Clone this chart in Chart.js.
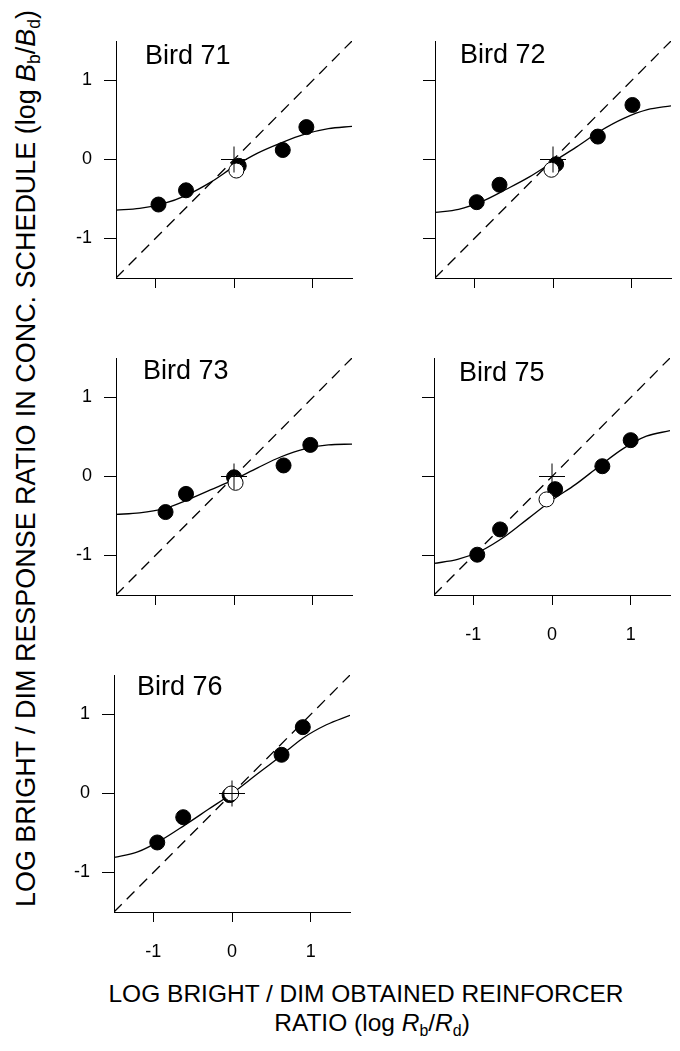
<!DOCTYPE html>
<html>
<head>
<meta charset="utf-8">
<script src="https://cdn.jsdelivr.net/npm/chart.js@4.4.1/dist/chart.umd.min.js"></script>
<style>
  html,body{margin:0;padding:0;background:#fff;}
  body{width:680px;height:1051px;position:relative;overflow:hidden;font-family:"Liberation Sans",Arial,sans-serif;color:#000;}
  .panel{position:absolute;}
  .ytitle{position:absolute;left:27px;top:458px;white-space:nowrap;font-size:27px;line-height:27px;}
  .xline{position:absolute;white-space:nowrap;font-size:24.5px;line-height:30px;transform:translateX(-50%);}
  sub{font-size:0.65em;vertical-align:-0.3em;line-height:0;}
</style>
</head>
<body>
<div class="ytitle" id="ytitle">LOG BRIGHT / DIM RESPONSE RATIO IN CONC. SCHEDULE (log <i>B</i><sub>b</sub>/<i>B</i><sub>d</sub>)</div>
<div class="xline" style="left:366px;top:979px;">LOG BRIGHT / DIM OBTAINED REINFORCER</div>
<div class="xline" style="left:372px;top:1008px;">RATIO (log <i>R</i><sub>b</sub>/<i>R</i><sub>d</sub>)</div>
<script>
// ---- data ----
const birdNames = ['Bird 71', 'Bird 72', 'Bird 73', 'Bird 75', 'Bird 76'];
const tickValues = [-1, 0, 1];
const tickLabels = ['-1', '0', '1'];
const axisMin = -1.5, axisMax = 1.5;
const diagX = [-1.5, 1.5];
const diagY = [-1.5, 1.5];
const crossX = [0];
const crossY = [0];
const curveX = [-1.5, -1.2, -0.9, -0.6, -0.3, 0, 0.3, 0.6, 0.9, 1.2, 1.5];

const b71FilledX = [-0.96, -0.61, 0.06, 0.62, 0.92];
const b71FilledY = [-0.57, -0.39, -0.08, 0.12, 0.41];
const b71OpenX = [0.03];
const b71OpenY = [-0.14];
const b71Curve = [-0.64, -0.62, -0.56, -0.45, -0.29, -0.09, 0.08, 0.21, 0.32, 0.39, 0.42];

const b72FilledX = [-0.97, -0.68, 0.04, 0.57, 1.01];
const b72FilledY = [-0.54, -0.32, -0.06, 0.29, 0.69];
const b72OpenX = [-0.02];
const b72OpenY = [-0.13];
const b72Curve = [-0.67, -0.63, -0.53, -0.38, -0.22, -0.03, 0.16, 0.36, 0.52, 0.63, 0.68];

const b73FilledX = [-0.87, -0.61, 0.0, 0.63, 0.97];
const b73FilledY = [-0.45, -0.22, -0.01, 0.14, 0.40];
const b73OpenX = [0.02];
const b73OpenY = [-0.08];
const b73Curve = [-0.48, -0.46, -0.41, -0.30, -0.17, -0.04, 0.11, 0.25, 0.35, 0.40, 0.41];

const b75FilledX = [-0.95, -0.66, 0.04, 0.64, 1.0];
const b75FilledY = [-0.99, -0.67, -0.16, 0.13, 0.46];
const b75OpenX = [-0.07];
const b75OpenY = [-0.29];
const b75Curve = [-1.10, -1.05, -0.94, -0.76, -0.53, -0.30, -0.10, 0.13, 0.35, 0.51, 0.58];

const b76FilledX = [-0.95, -0.62, -0.03, 0.63, 0.90];
const b76FilledY = [-0.62, -0.30, -0.02, 0.49, 0.84];
const b76OpenX = [-0.01];
const b76OpenY = [0.0];
const b76Curve = [-0.81, -0.74, -0.59, -0.40, -0.20, 0.0, 0.23, 0.46, 0.70, 0.87, 0.99];

const birdData = [
  {fx: b71FilledX, fy: b71FilledY, ox: b71OpenX, oy: b71OpenY, cy: b71Curve},
  {fx: b72FilledX, fy: b72FilledY, ox: b72OpenX, oy: b72OpenY, cy: b72Curve},
  {fx: b73FilledX, fy: b73FilledY, ox: b73OpenX, oy: b73OpenY, cy: b73Curve},
  {fx: b75FilledX, fy: b75FilledY, ox: b75OpenX, oy: b75OpenY, cy: b75Curve},
  {fx: b76FilledX, fy: b76FilledY, ox: b76OpenX, oy: b76OpenY, cy: b76Curve}
];

// ---- y title: rotate and fit to its span in the reference (y 10..907) ----
(function () {
  const el = document.getElementById('ytitle');
  const w = el.getBoundingClientRect().width;
  const h = el.getBoundingClientRect().height;
  const target = 897;
  const sx = target / w;
  el.style.left = (27 - w / 2) + 'px';
  el.style.top = (458 - h / 2) + 'px';
  el.style.transform = 'rotate(-90deg) scale(' + sx + ',1)';
})();

// ---- layout (chart-area positions on the page) ----
const panels = [
  {left: 116, top: 41, showX: false, showY: true,  lx: 29, ly: 23},
  {left: 435, top: 41, showX: false, showY: false, lx: 25, ly: 22},
  {left: 116, top: 358, showX: false, showY: true, lx: 27, ly: 21},
  {left: 434, top: 358, showX: true,  showY: false, lx: 25, ly: 23},
  {left: 114, top: 675, showX: true,  showY: true,  lx: 23, ly: 20}
];
const areaW = 236, areaH = 237, mL = 60, mT = 25, mR = 14, mB = 45;

const FONT = '"Liberation Sans", Arial, sans-serif';
const pts = (xs, ys) => xs.map((x, i) => ({x: x, y: ys[i]}));

const labelPlugin = {
  id: 'birdLabel',
  afterDraw(chart, args, opts) {
    const ctx = chart.ctx, a = chart.chartArea;
    ctx.save();
    ctx.fillStyle = '#000';
    ctx.font = '27px ' + FONT;
    ctx.textBaseline = 'alphabetic';
    ctx.textAlign = 'left';
    ctx.fillText(opts.text, a.left + opts.dx, a.top + opts.dy);
    ctx.restore();
  }
};

panels.forEach((p, i) => {
  const d = birdData[i];
  const div = document.createElement('div');
  div.className = 'panel';
  div.style.left = (p.left - mL) + 'px';
  div.style.top = (p.top - mT) + 'px';
  const cv = document.createElement('canvas');
  cv.width = mL + areaW + mR;
  cv.height = mT + areaH + mB;
  cv.style.width = cv.width + 'px';
  cv.style.height = cv.height + 'px';
  div.appendChild(cv);
  document.body.appendChild(div);

  const scaleCommon = (show, isX) => ({
    type: 'linear',
    min: axisMin, max: axisMax,
    afterBuildTicks: s => { s.ticks = tickValues.map(v => ({value: v})); },
    afterFit: s => { if (isX) s.height = mB; else s.width = mL; },
    border: {display: true, color: '#000', width: 1},
    grid: {display: true, drawOnChartArea: false, drawTicks: true, tickLength: isX ? 10 : 12, color: '#000', tickWidth: 1},
    ticks: {
      color: '#000',
      font: {family: FONT, size: 18},
      padding: isX ? 19 : 12,
      autoSkip: false, maxRotation: 0,
      callback: v => show ? tickLabels[tickValues.indexOf(v)] : ''
    }
  });

  new Chart(cv, {
    type: 'scatter',
    data: {
      datasets: [
        {data: pts(crossX, crossY), pointStyle: 'cross', pointRadius: 13, hoverRadius: 13, borderColor: '#000', borderWidth: 1, backgroundColor: '#000'},
        {data: pts(d.ox, d.oy), pointStyle: 'circle', pointRadius: 7.5, hoverRadius: 7.5, borderColor: '#000', borderWidth: 1, backgroundColor: '#fff'},
        {data: pts(d.fx, d.fy), pointStyle: 'circle', pointRadius: 7.5, hoverRadius: 7.5, borderColor: '#000', borderWidth: 1, backgroundColor: '#000'},
        {data: pts(curveX, d.cy), showLine: true, pointRadius: 0, hoverRadius: 0, borderColor: '#000', borderWidth: 1.3, tension: 0.4, cubicInterpolationMode: 'monotone', fill: false},
        {data: pts(diagX, diagY), showLine: true, pointRadius: 0, hoverRadius: 0, borderColor: '#000', borderWidth: 1.3, borderDash: [11, 7], fill: false}
      ]
    },
    options: {
      responsive: false,
      devicePixelRatio: 1,
      animation: false,
      events: [],
      layout: {autoPadding: false, padding: {left: 0, top: mT, right: mR, bottom: 0}},
      plugins: {
        legend: {display: false},
        tooltip: {enabled: false},
        birdLabel: {text: birdNames[i], dx: p.lx, dy: p.ly}
      },
      scales: {
        x: scaleCommon(p.showX, true),
        y: scaleCommon(p.showY, false)
      }
    },
    plugins: [labelPlugin]
  });
});
</script>
</body>
</html>
